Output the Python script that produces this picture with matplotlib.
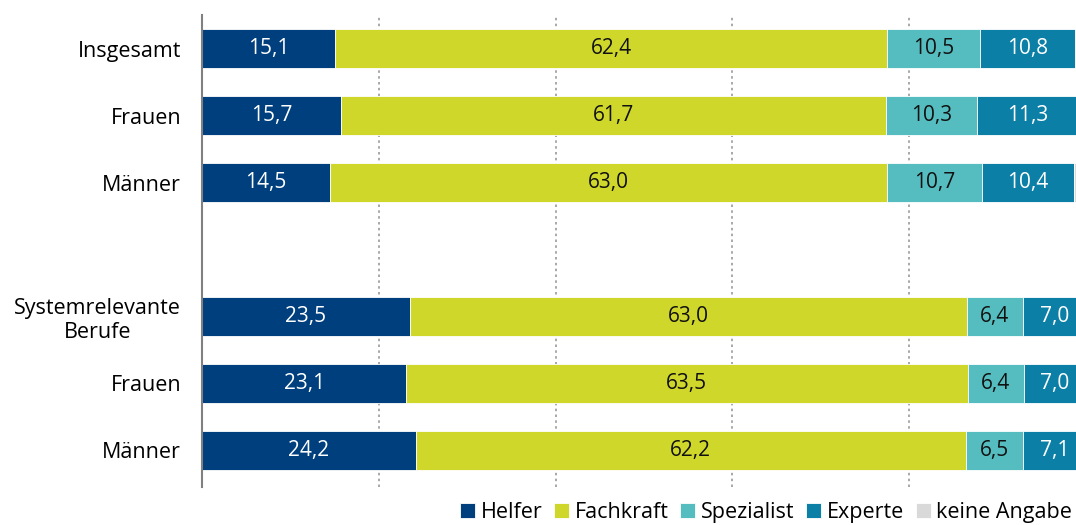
import numpy as np
import matplotlib.pyplot as plt

plt.rcParams.update({
    'font.family': ['Open Sans', 'DejaVu Sans'],
    'font.size': 15,
})

# Data
categories = ["Insgesamt", "Frauen", "Männer", "Systemrelevante\nBerufe", "Frauen", "Männer"]
positions = [0, 1, 2, 4, 5, 6]
series = ["Helfer", "Fachkraft", "Spezialist", "Experte", "keine Angabe"]
helfer = [15.1, 15.7, 14.5, 23.5, 23.1, 24.2]
fachkraft = [62.4, 61.7, 63.0, 63.0, 63.5, 62.2]
spezialist = [10.5, 10.3, 10.7, 6.4, 6.4, 6.5]
experte = [10.8, 11.3, 10.4, 7.0, 7.0, 7.1]
keine_angabe = [1.2, 1.0, 1.4, 0.1, 0.0, 0.0]

values = [helfer, fachkraft, spezialist, experte, keine_angabe]
colors = ['#003f7e', '#d0d72b', '#55bdc0', '#0c7fa7', '#d9d9d9']
text_colors = ['white', '#111111', '#111111', 'white', None]

fig = plt.figure(figsize=(10.76, 5.25), dpi=100)
ax = fig.add_axes([0.1877, 0.0724, 1.0093 - 0.1877, 0.971 - 0.0724])

left = np.zeros(len(categories))
for vals, name, col, tcol in zip(values, series, colors, text_colors):
    vals = np.array(vals)
    bars = ax.barh(positions, vals, left=left, height=0.58, color=col,
                   edgecolor='white', linewidth=0.6, label=name, zorder=2)
    if tcol is not None:
        for b, v in zip(bars, vals):
            ax.text(b.get_x() + b.get_width() / 2, b.get_y() + b.get_height() / 2,
                    f"{v:.1f}".replace('.', ','), ha='center', va='center',
                    color=tcol, fontsize=15, zorder=3)
    left += vals

ax.set_xlim(0, 100)
ax.set_ylim(6.55, -0.5)
ax.set_xticks([20, 40, 60, 80])
ax.tick_params(axis='x', length=0, labelbottom=False)
ax.grid(axis='x', linestyle=(0, (1.5, 2)), color='#999999', linewidth=1.2, zorder=0)
ax.set_yticks(positions)
ax.set_yticklabels(categories, fontsize=15.5)
ax.tick_params(axis='y', length=0, pad=15)
for lbl in ax.get_yticklabels():
    lbl.set_multialignment('center')

for s in ['top', 'right', 'bottom']:
    ax.spines[s].set_visible(False)
ax.spines['left'].set_color('#808080')
ax.spines['left'].set_linewidth(1.5)
ax.set_axisbelow(True)

fig.legend(loc='center right', bbox_to_anchor=(1072 / 1076, 0.023), ncol=5,
           frameon=False, handlelength=0.7, handleheight=0.7, handletextpad=0.25,
           columnspacing=0.55, borderaxespad=0, borderpad=0, fontsize=15.5)

fig.savefig('out.png', dpi=100)
